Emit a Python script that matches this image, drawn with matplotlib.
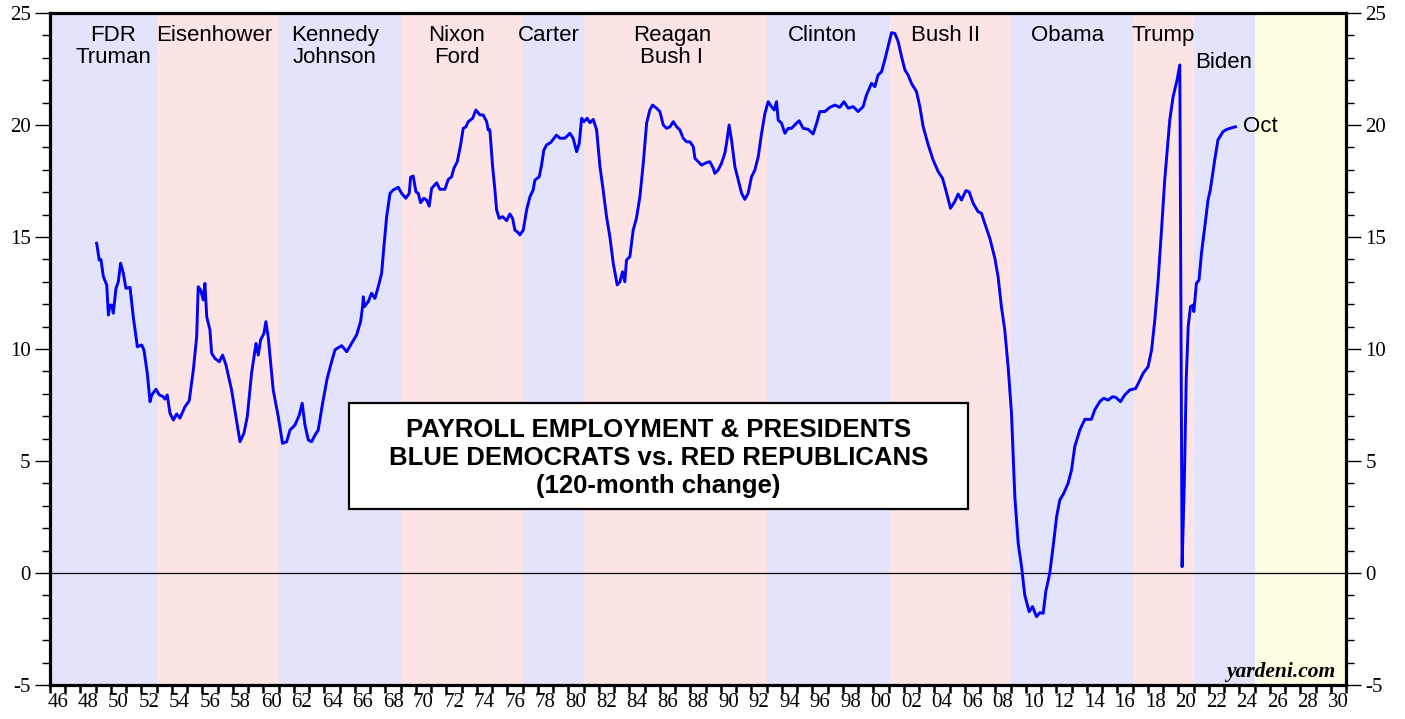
import matplotlib
matplotlib.use("Agg")
import matplotlib.pyplot as plt
from matplotlib.patches import Rectangle
from matplotlib.ticker import FixedLocator, NullFormatter, FixedFormatter

plt.rcParams["axes.unicode_minus"] = False

# ---------------- data ----------------
years = [
    1949.06, 1949.23, 1949.34, 1949.50, 1949.72, 1949.83, 1949.93, 1950.05, 1950.15, 1950.33,
    1950.48, 1950.63, 1950.81, 1950.98, 1951.25, 1951.46, 1951.73, 1952.01, 1952.16, 1952.38,
    1952.56, 1952.67, 1952.95, 1953.17, 1953.43, 1953.54, 1953.69, 1953.87, 1954.09, 1954.31,
    1954.52, 1954.85, 1955.13, 1955.40, 1955.62, 1955.72, 1955.88, 1956.05, 1956.16, 1956.28,
    1956.49, 1956.60, 1956.82, 1957.10, 1957.32, 1957.54, 1957.91, 1958.28, 1958.46, 1958.72,
    1958.94, 1959.22, 1959.51, 1959.66, 1959.81, 1960.03, 1960.16, 1960.31, 1960.64, 1960.97,
    1961.25, 1961.52, 1961.74, 1962.07, 1962.35, 1962.54, 1962.72, 1962.94, 1963.16, 1963.38,
    1963.59, 1963.88, 1964.18, 1964.47, 1964.69, 1964.84, 1965.13, 1965.46, 1965.78, 1966.11,
    1966.37, 1966.50, 1966.55, 1966.62, 1966.87, 1967.09, 1967.31, 1967.53, 1967.75, 1967.90,
    1968.08, 1968.30, 1968.51, 1968.84, 1969.06, 1969.34, 1969.56, 1969.65, 1969.82, 1970.00,
    1970.15, 1970.31, 1970.52, 1970.70, 1970.87, 1971.03, 1971.36, 1971.57, 1971.90, 1972.12,
    1972.34, 1972.49, 1972.71, 1972.93, 1973.10, 1973.28, 1973.43, 1973.72, 1973.93, 1974.20,
    1974.41, 1974.64, 1974.74, 1974.85, 1975.03, 1975.18, 1975.29, 1975.46, 1975.68, 1975.95,
    1976.16, 1976.34, 1976.49, 1976.71, 1976.82, 1977.04, 1977.26, 1977.48, 1977.69, 1977.80,
    1978.09, 1978.24, 1978.39, 1978.57, 1978.83, 1979.00, 1979.22, 1979.44, 1979.77, 1980.10,
    1980.31, 1980.54, 1980.71, 1980.87, 1981.02, 1981.23, 1981.41, 1981.63, 1981.85, 1982.07,
    1982.28, 1982.50, 1982.72, 1982.94, 1983.20, 1983.38, 1983.55, 1983.70, 1983.81, 1984.03,
    1984.25, 1984.46, 1984.69, 1984.91, 1985.13, 1985.34, 1985.52, 1985.78, 1986.00, 1986.22,
    1986.44, 1986.66, 1986.88, 1987.10, 1987.31, 1987.53, 1987.75, 1987.97, 1988.19, 1988.30,
    1988.51, 1988.73, 1989.06, 1989.28, 1989.50, 1989.60, 1989.82, 1990.04, 1990.26, 1990.37,
    1990.54, 1990.70, 1990.92, 1991.14, 1991.36, 1991.57, 1991.79, 1992.01, 1992.23, 1992.45,
    1992.67, 1992.89, 1993.10, 1993.32, 1993.50, 1993.65, 1993.76, 1993.98, 1994.20, 1994.41,
    1994.63, 1994.96, 1995.13, 1995.40, 1995.72, 1996.05, 1996.28, 1996.49, 1996.82, 1997.15,
    1997.48, 1997.80, 1998.07, 1998.35, 1998.68, 1999.00, 1999.33, 1999.55, 1999.88, 2000.10,
    2000.31, 2000.54, 2000.75, 2000.97, 2001.19, 2001.41, 2001.63, 2001.85, 2002.07, 2002.28,
    2002.50, 2002.83, 2003.05, 2003.27, 2003.60, 2003.92, 2004.25, 2004.54, 2004.81, 2005.06,
    2005.34, 2005.56, 2005.78, 2006.07, 2006.28, 2006.55, 2006.87, 2007.09, 2007.38, 2007.64,
    2007.97, 2008.18, 2008.40, 2008.62, 2008.84, 2009.06, 2009.28, 2009.50, 2009.72, 2009.93,
    2010.22, 2010.44, 2010.70, 2010.92, 2011.14, 2011.31, 2011.57, 2011.79, 2012.02, 2012.23,
    2012.49, 2012.77, 2013.00, 2013.21, 2013.54, 2013.87, 2014.30, 2014.52, 2014.85, 2015.11,
    2015.40, 2015.69, 2015.90, 2016.21, 2016.49, 2016.82, 2017.21, 2017.48, 2017.70, 2018.02,
    2018.25, 2018.46, 2018.68, 2018.90, 2019.11, 2019.22, 2019.44, 2019.66, 2019.92, 2020.10,
    2020.25, 2020.40, 2020.52, 2020.65, 2020.80, 2020.97, 2021.02, 2021.19, 2021.36, 2021.52,
    2021.74, 2021.95, 2022.10, 2022.39, 2022.60, 2022.93, 2023.11, 2023.38, 2023.75,
]
change = [
    14.72, 13.97, 14.00, 13.23, 12.86, 11.52, 11.96, 11.96, 11.60, 12.71,
    13.00, 13.83, 13.38, 12.71, 12.75, 11.44, 10.10, 10.18, 9.96, 8.92,
    7.65, 7.95, 8.20, 7.95, 7.87, 7.76, 7.95, 7.13, 6.83, 7.10,
    6.91, 7.42, 7.69, 9.06, 10.55, 12.78, 12.63, 12.19, 12.93, 11.44,
    10.85, 9.81, 9.58, 9.43, 9.73, 9.29, 8.17, 6.61, 5.86, 6.24,
    6.98, 8.92, 10.25, 9.73, 10.40, 10.70, 11.22, 10.55, 8.17, 6.98,
    5.79, 5.86, 6.38, 6.61, 7.05, 7.58, 6.61, 5.94, 5.86, 6.16,
    6.38, 7.58, 8.69, 9.43, 9.96, 10.03, 10.15, 9.88, 10.25, 10.63,
    11.22, 11.89, 12.33, 11.89, 12.11, 12.49, 12.26, 12.78, 13.38, 14.57,
    15.91, 16.95, 17.10, 17.22, 16.95, 16.73, 16.95, 17.67, 17.72, 17.02,
    16.95, 16.53, 16.73, 16.65, 16.38, 17.17, 17.42, 17.13, 17.13, 17.57,
    17.69, 18.07, 18.36, 19.11, 19.85, 19.92, 20.15, 20.30, 20.67, 20.45,
    20.45, 20.15, 19.78, 19.78, 18.14, 17.10, 16.21, 15.83, 15.91, 15.73,
    16.03, 15.83, 15.31, 15.19, 15.09, 15.31, 16.21, 16.80, 17.10, 17.54,
    17.69, 18.21, 18.88, 19.11, 19.21, 19.36, 19.55, 19.41, 19.41, 19.63,
    19.41, 18.81, 19.18, 20.30, 20.15, 20.30, 20.10, 20.25, 19.78, 18.14,
    17.10, 15.91, 15.01, 13.83, 12.86, 13.00, 13.45, 13.00, 13.97, 14.12,
    15.31, 15.83, 16.80, 18.29, 20.08, 20.67, 20.89, 20.75, 20.60, 20.00,
    19.85, 19.92, 20.15, 19.92, 19.78, 19.41, 19.25, 19.25, 19.03, 18.51,
    18.36, 18.21, 18.32, 18.36, 18.07, 17.84, 17.99, 18.29, 18.74, 19.18,
    20.00, 19.33, 18.14, 17.54, 16.95, 16.68, 16.95, 17.69, 17.99, 18.58,
    19.63, 20.52, 21.04, 20.82, 20.67, 21.04, 20.22, 20.08, 19.63, 19.85,
    19.85, 20.08, 20.19, 19.85, 19.81, 19.60, 20.08, 20.60, 20.60, 20.79,
    20.89, 20.79, 21.04, 20.75, 20.82, 20.60, 20.82, 21.34, 21.86, 21.71,
    22.23, 22.38, 22.90, 23.50, 24.12, 24.09, 23.72, 23.05, 22.46, 22.23,
    21.86, 21.49, 20.82, 19.92, 19.11, 18.44, 17.92, 17.62, 16.95, 16.28,
    16.58, 16.92, 16.65, 17.07, 17.02, 16.50, 16.13, 16.06, 15.46, 14.94,
    14.05, 13.23, 11.89, 10.85, 9.21, 7.13, 3.41, 1.33, 0.29, -0.98,
    -1.73, -1.50, -1.95, -1.77, -1.80, -0.83, -0.01, 1.17, 2.51, 3.26,
    3.56, 4.00, 4.60, 5.64, 6.38, 6.86, 6.86, 7.28, 7.65, 7.80,
    7.72, 7.87, 7.84, 7.65, 7.95, 8.17, 8.24, 8.62, 8.92, 9.21,
    9.96, 11.29, 13.08, 15.31, 17.54, 18.44, 20.22, 21.26, 22.01, 22.68,
    0.28, 4.15, 8.62, 11.00, 11.89, 11.96, 11.67, 12.93, 13.08, 14.27,
    15.46, 16.65, 17.10, 18.44, 19.33, 19.70, 19.78, 19.85, 19.92,
]

term_start = [1946, 1953, 1961, 1969, 1977, 1981, 1993, 2001, 2009, 2017, 2021, 2025]
term_end = [1953, 1961, 1969, 1977, 1981, 1993, 2001, 2009, 2017, 2021, 2025, 2031]
term_party = ["D", "R", "D", "R", "D", "R", "D", "R", "D", "R", "D", "future"]
president_names = ["FDR\nTruman", "Eisenhower", "Kennedy\nJohnson", "Nixon\nFord", "Carter",
                   "Reagan\nBush I", "Clinton", "Bush II", "Obama", "Trump", "Biden"]

y_ticks = [-5, 0, 5, 10, 15, 20, 25]
x_tick_labels = ["46", "48", "50", "52", "54", "56", "58", "60", "62", "64", "66", "68", "70", "72",
                 "74", "76", "78", "80", "82", "84", "86", "88", "90", "92", "94", "96", "98", "00",
                 "02", "04", "06", "08", "10", "12", "14", "16", "18", "20", "22", "24", "26", "28", "30"]

# ---------------- layout / style ----------------
W, H = 1405, 719
L, R, T, B = 50, 1346, 13, 685
XMIN, XMAX, YMIN, YMAX = 1946, 2031, -5, 25
band_colors = {"D": "#E3E3FC", "R": "#FDE4E4", "future": "#FFFEE3"}
SANS = "Liberation Sans"
SERIF = "Liberation Serif"


def px2x(px):
    return XMIN + (px - L) / (R - L) * (XMAX - XMIN)


def px2y(py):
    return YMAX - (py - T) / (B - T) * (YMAX - YMIN)


fig = plt.figure(figsize=(W / 100, H / 100), dpi=100)
ax = fig.add_axes([L / W, 1 - B / H, (R - L) / W, (B - T) / H])
ax.set_xlim(XMIN, XMAX)
ax.set_ylim(YMIN, YMAX)

for s, e, p in zip(term_start, term_end, term_party):
    ax.axvspan(s, e, color=band_colors[p], lw=0, zorder=0)

ax.axhline(0, color="black", lw=0.9, zorder=1)
ax.plot(years, change, color="#0000FF", lw=2.1, zorder=3, solid_joinstyle="round")

# president labels
label_px = [113, 214, 335, 457, 549, 672, 823, 946, 1068, 1163, 1224]
for name, px in zip(president_names, label_px):
    top = 25 if name != "Biden" else 52
    ax.text(px2x(px), px2y(top), name, ha="center", va="top", fontsize=16,
            family=SANS, linespacing=1.08, zorder=4)
ax.text(px2x(1243), change[-1], "Oct", ha="left", va="center", fontsize=16,
        family=SANS, zorder=4)

# title box
ax.add_patch(Rectangle((px2x(349), px2y(509)), px2x(968) - px2x(349), px2y(403) - px2y(509),
                       facecolor="white", edgecolor="black", lw=1.6, zorder=5))
ax.text(px2x(658.5), px2y(458), "PAYROLL EMPLOYMENT & PRESIDENTS\nBLUE DEMOCRATS vs. RED REPUBLICANS\n(120-month change)",
        ha="center", va="center", fontsize=18.5, fontweight="bold", family=SANS,
        linespacing=1.22, zorder=6)

ax.text(px2x(1335), px2y(677), "yardeni.com", ha="right", va="baseline", fontsize=15.5,
        fontweight="bold", fontstyle="italic", family=SERIF, zorder=6)

# axes styling
for sp in ax.spines.values():
    sp.set_linewidth(2.3)
    sp.set_zorder(7)

ax.yaxis.set_major_locator(FixedLocator(y_ticks))
ax.yaxis.set_minor_locator(FixedLocator([v for v in range(YMIN, YMAX + 1) if v % 5 != 0]))
ax.tick_params(axis="y", which="major", direction="out", length=11, width=1.0, pad=3,
               left=True, right=True, labelleft=True, labelright=True, labelsize=15)
ax.tick_params(axis="y", which="minor", direction="out", length=6, width=1.0,
               left=True, right=True)

ax.xaxis.set_major_locator(FixedLocator(list(range(XMIN, XMAX + 1))))
ax.xaxis.set_major_formatter(NullFormatter())
ax.xaxis.set_minor_locator(FixedLocator([XMIN + 0.5 + 2 * i for i in range(len(x_tick_labels))]))
ax.xaxis.set_minor_formatter(FixedFormatter(x_tick_labels))
ax.tick_params(axis="x", which="major", direction="out", length=6, width=1.8)
ax.tick_params(axis="x", which="minor", length=0, pad=6, labelsize=15)

for lab in ax.get_yticklabels() + ax.get_xticklabels(minor=True):
    lab.set_family(SERIF)

fig.savefig("out.png", dpi=100)
